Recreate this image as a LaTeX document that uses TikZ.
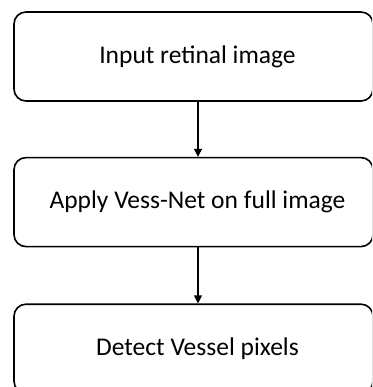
\documentclass[tikz,border=0pt]{standalone}
\usepackage{fontspec}
\setmainfont{Carlito}
\usetikzlibrary{positioning,arrows.meta}
\tikzset{
  stepbox/.style={draw,line width=1.6pt,rounded corners=12pt,minimum width=359pt,minimum height=89pt,font=\fontsize{25.5}{30}\selectfont,inner sep=0pt},
  flow/.style={line width=1.2pt,-{Triangle[width=8pt,length=8pt]}}
}

\begin{document}
\begin{tikzpicture}[x=1pt,y=-1pt]
\useasboundingbox (0,0) rectangle (372,387);
\clip (0,0) rectangle (372,387);
% text sits a little right of the box centre
\node[stepbox] (input) at (193.5,56.5) {\hspace*{8pt}Input retinal image};
\node[stepbox,below=55pt of input] (apply) {\hspace*{8pt}Apply Vess-Net on full image};
\node[stepbox,below=56pt of apply] (detect) {\hspace*{8pt}Detect Vessel pixels};
\draw[flow] ([xshift=4.5pt]input.south) -- ([xshift=4.5pt]apply.north);
\draw[flow] ([xshift=4.5pt]apply.south) -- ([xshift=4.5pt]detect.north);
\end{tikzpicture}
\end{document}
